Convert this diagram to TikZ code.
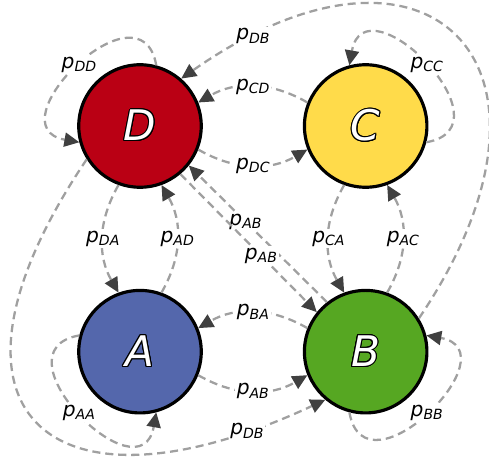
\documentclass[tikz,border=0pt]{standalone}
\usepackage{fontspec}
\setmainfont{DejaVu Sans}
\usepackage{contour}
\contourlength{0.6pt}
\usetikzlibrary{arrows.meta, positioning}

\definecolor{stateD}{HTML}{BA0014}
\definecolor{stateC}{HTML}{FFDB4A}
\definecolor{stateB}{HTML}{56A722}
\definecolor{stateA}{HTML}{5467AC}
\definecolor{edgegray}{HTML}{A0A0A0}
\definecolor{tipgray}{HTML}{404040}

\newcommand{\pp}[1]{\textit{p}\raisebox{-2pt}{\fontsize{8}{9}\selectfont\itshape #1}}
\newcommand{\statename}[1]{\contour{black}{\textcolor{white}{\itshape #1}}}

\begin{document}
\begin{tikzpicture}[
        node distance=2cm,
        markov/.style={circle, draw, line width=1.8pt, minimum size=2.45cm, font=\fontsize{24}{28}\selectfont},
        trans/.style={draw=edgegray, line width=1.3pt, dash pattern=on 4.6pt off 2.8pt, -{Triangle[color=tipgray, length=8.5pt, width=8pt]}},
        prob/.style={fill=white, inner sep=1pt, font=\fontsize{11.5}{13}\selectfont},
    ]
\useasboundingbox (-2.8,2.52) rectangle (6.98,-6.92);

\node[markov, fill=stateD] (D) {\statename{D}};
\node[markov, fill=stateC, right=of D] (C) {\statename{C}};
\node[markov, fill=stateA, below=of D] (A) {\statename{A}};
\node[markov, fill=stateB, below=of C] (B) {\statename{B}};

\draw[trans] (D.75) to[out=100, in=170, looseness=2.1] node[prob, pos=0.5] {\pp{DD}} (D.195);
\draw[trans] (C.-15) to[out=10, in=80, looseness=2.1] node[prob, pos=0.5] {\pp{CC}} (C.105);
\draw[trans] (B.255) to[out=280, in=350, looseness=2.1] node[prob, pos=0.5] {\pp{BB}} (B.15);
\draw[trans] (A.165) to[out=190, in=260, looseness=2.1] node[prob, pos=0.5] {\pp{AA}} (A.285);

\draw[trans] (C.158) to[bend right=30] node[prob, midway] {\pp{CD}} (D.22);
\draw[trans] (D.-22) to[bend right=30] node[prob, midway] {\pp{DC}} (C.202);
\draw[trans] (B.158) to[bend right=30] node[prob, midway] {\pp{BA}} (A.22);
\draw[trans] (A.-22) to[bend right=30] node[prob, midway] {\pp{AB}} (B.202);

\draw[trans] (D.250) to[bend right=30] node[prob, midway] {\pp{DA}} (A.110);
\draw[trans] (A.70) to[bend right=30] node[prob, midway] {\pp{AD}} (D.290);
\draw[trans] (C.250) to[bend right=30] node[prob, midway] {\pp{CA}} (B.110);
\draw[trans] (B.70) to[bend right=30] node[prob, midway] {\pp{AC}} (C.290);

\draw[trans] (B.128) -- node[prob, pos=0.59] {\pp{AB}} (D.-39);
\draw[trans] (D.-50) -- node[prob, pos=0.59] {\pp{AB}} (B.141);

\draw[trans] (B.32) to[out=56, in=35, looseness=2.3] node[prob, pos=0.9] {\pp{DB}} (D.49);
\draw[trans] (D.212) to[out=236, in=205, looseness=2.3] node[prob, pos=0.9] {\pp{DB}} (B.230);
\end{tikzpicture}
\end{document}
